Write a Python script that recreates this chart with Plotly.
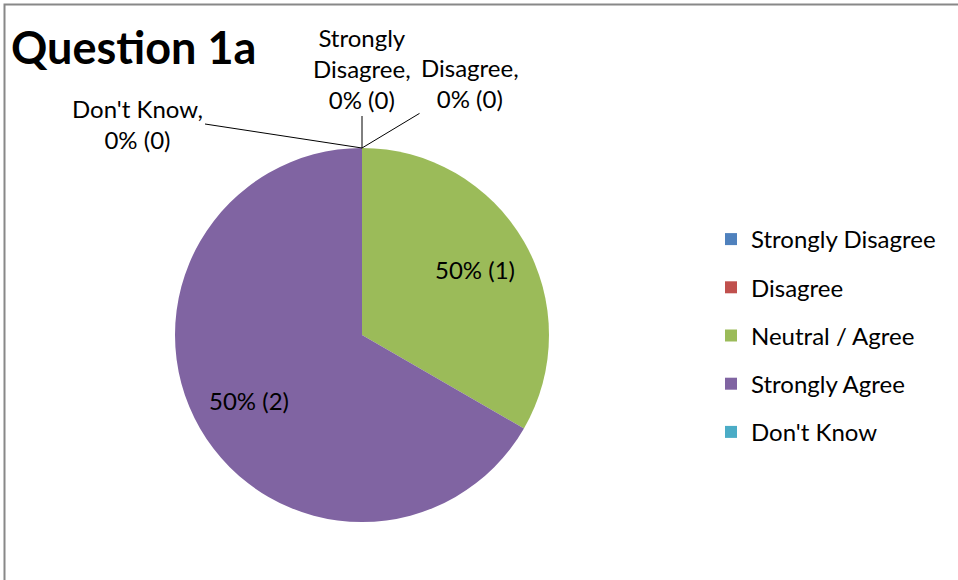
import math
import plotly.graph_objects as go

categories = ["Strongly Disagree", "Disagree", "Neutral / Agree", "Strongly Agree", "Don't Know"]
counts = [0, 0, 1, 2, 0]
percent_labels = [0, 0, 50, 50, 0]
colors = ["#4F81BD", "#C0504D", "#9BBB59", "#8064A2", "#4BACC6"]

W, H = 958, 580
FONT = "Lato"
slice_text = [f"{p}% ({c})" for p, c in zip(percent_labels, counts)]

# pie centre / radius in pixels
CX, CY, R = 362, 335, 187

fig = go.Figure()
fig.add_trace(go.Pie(
    labels=categories,
    values=counts,
    textinfo="none",
    marker=dict(colors=colors, line=dict(width=0)),
    sort=False,
    direction="clockwise",
    rotation=0,
    showlegend=False,
    hoverinfo="label+value",
    domain=dict(x=[(CX - R) / W, (CX + R) / W],
                y=[(H - CY - R) / H, (H - CY + R) / H]),
))

# legend entries (one group each so the spacing can be set)
for name, col in zip(categories, colors):
    fig.add_trace(go.Scatter(
        x=[None], y=[None], mode="markers", name=name, legendgroup=name,
        marker=dict(symbol="square", size=12, color=col),
    ))

# labels inside non-empty slices, at mid-angle of each slice
total = sum(counts)
start = 0.0
for c, t in zip(counts, slice_text):
    sweep = 360.0 * c / total
    if c > 0:
        mid = math.radians(start + sweep / 2)
        px = CX + 0.7 * R * math.sin(mid)
        py = CY - 0.7 * R * math.cos(mid)
        fig.add_annotation(x=px / W, y=1 - py / H, xref="paper", yref="paper",
                           text=t, showarrow=False, xanchor="center", yanchor="middle",
                           font=dict(family=FONT, size=24, color="#000000"))
    start += sweep

# labels for empty slices, with leader lines to the top of the pie
top_x = CX / W
top_y = 1 - (CY - R) / H
zero_labels = {
    "Don't Know": dict(ax=-157, ay=-24, xanchor="right", yanchor="middle"),
    "Strongly Disagree": dict(ax=0, ay=-32, xanchor="center", yanchor="bottom"),
    "Disagree": dict(ax=108, ay=-65, xanchor="center", yanchor="middle"),
}
for name, c, p in zip(categories, counts, percent_labels):
    if c != 0 or name not in zero_labels:
        continue
    opt = zero_labels[name]
    head = "Strongly<br>Disagree" if name == "Strongly Disagree" else name
    fig.add_annotation(
        x=top_x, y=top_y, xref="paper", yref="paper",
        text=f"{head},<br>{p}% ({c})",
        showarrow=True, arrowhead=0, arrowwidth=1, arrowcolor="#000000",
        ax=opt["ax"], ay=opt["ay"], xanchor=opt["xanchor"], yanchor=opt["yanchor"],
        align="center", font=dict(family=FONT, size=24, color="#000000"),
    )

fig.add_annotation(
    x=9 / W, y=1 - 18 / H, xref="paper", yref="paper",
    text="<b>Question 1a</b>", showarrow=False, xanchor="left", yanchor="top",
    font=dict(family=FONT, size=45, color="#000000"),
)

# chart frame (left and top edges visible)
fig.add_shape(type="rect", xref="paper", yref="paper",
              x0=4.5 / W, x1=1.05, y0=-0.05, y1=1 - 4.5 / H,
              line=dict(color="#888888", width=2))

fig.update_layout(
    width=W, height=H,
    margin=dict(l=0, r=0, t=0, b=0),
    paper_bgcolor="white", plot_bgcolor="white",
    xaxis=dict(visible=False), yaxis=dict(visible=False),
    font=dict(family=FONT, size=24, color="#000000"),
    legend=dict(x=711 / W, y=1 - 217 / H, xanchor="left", yanchor="top",
                tracegroupgap=14, font=dict(family=FONT, size=24),
                itemsizing="trace", bgcolor="rgba(0,0,0,0)"),
    showlegend=True,
)

fig.write_html(
    "out.html",
    config={"displayModeBar": False},
    post_script="document.body.style.margin='0';document.body.style.overflow='hidden';",
)
